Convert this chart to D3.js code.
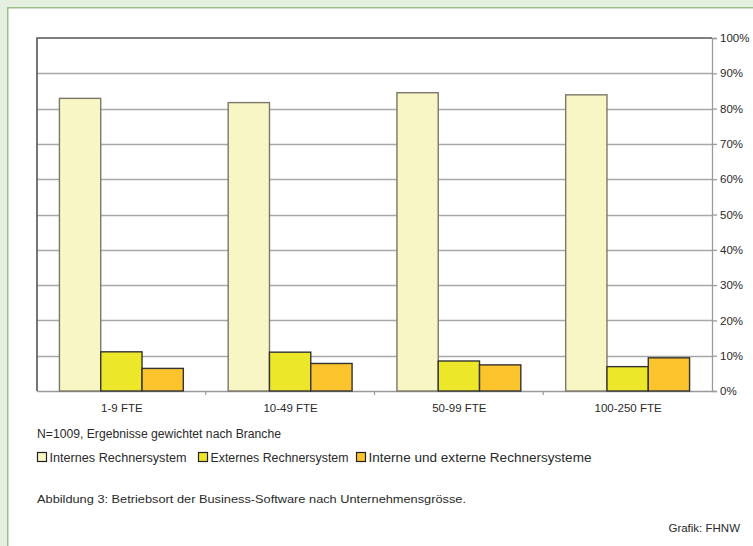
<!DOCTYPE html>
<html>
<head>
<meta charset="utf-8">
<script src="https://cdn.jsdelivr.net/npm/d3@7"></script>
<style>
  html, body { margin: 0; padding: 0; background: #e6f0e1; overflow: hidden; width: 753px; height: 546px; }
  svg { display: block; overflow: hidden; }
  text { font-family: "Liberation Sans", Arial, sans-serif; fill: #2a2a2a; }
</style>
</head>
<body>
<svg id="chart" width="753" height="546"></svg>
<script>
// Company size classes
const categories = ["1-9 FTE", "10-49 FTE", "50-99 FTE", "100-250 FTE"];
// Series (share of companies, %)
const seriesNames = ["Internes Rechnersystem", "Externes Rechnersystem", "Interne und externe Rechnersysteme"];
const internes = [82.9, 81.7, 84.5, 83.9];
const externes = [11.1, 11.0, 8.5, 6.9];
const beide = [6.4, 7.8, 7.4, 9.4];
const yTicks = [0, 10, 20, 30, 40, 50, 60, 70, 80, 90, 100];

const fills = ["#f9f6c6", "#ece829", "#fbc42c"];
const strokes = ["#7b776a", "#333", "#333"];

const values = [internes, externes, beide];
const rows = categories.map((c, i) => ({
  cat: c,
  vals: seriesNames.map((s, k) => ({ key: s, k, v: values[k][i] }))
}));

const W = 753, H = 546;
const svg = d3.select("#chart");

// page panel: white sheet running off the right and bottom edges
svg.append("rect").attr("x", 8).attr("y", 8).attr("width", W - 8).attr("height", H - 8)
  .attr("fill", "#fff");
svg.append("path").attr("d", `M7.75,${H} V7.75 H${W}`)
  .attr("fill", "none").attr("stroke", "#9cc08a").attr("stroke-width", 1.5);

const plotLeft = 37, plotRight = 712, plotTop = 38, plotBottom = 391;

const x0 = d3.scaleBand().domain(categories).range([plotLeft, plotRight]).paddingInner(0).paddingOuter(0);
const x1 = d3.scaleBand().domain(seriesNames).range([0, x0.bandwidth()]).paddingInner(0).paddingOuter(0.543);
const y = d3.scaleLinear().domain([0, 100]).range([plotBottom, plotTop]);

// gridlines
svg.append("g").selectAll("line").data(yTicks.filter(t => t > 0 && t < 100)).join("line")
  .attr("x1", plotLeft).attr("x2", plotRight)
  .attr("y1", d => Math.round(y(d)) + 0.5).attr("y2", d => Math.round(y(d)) + 0.5)
  .attr("stroke", "#a8a8a8").attr("stroke-width", 1.4);

// right axis with percent labels
const yAxis = d3.axisRight(y).tickValues(yTicks).tickSize(5).tickPadding(3).tickFormat(d => d + "%");
const ga = svg.append("g").attr("transform", `translate(${plotRight},0)`).call(yAxis);
ga.select(".domain").attr("stroke", "#9a9a9a").attr("stroke-width", 1.3);
ga.selectAll(".tick line").attr("stroke", "#9a9a9a").attr("stroke-width", 1.3);
ga.selectAll(".tick text").attr("font-size", 11.5).attr("fill", "#2a2a2a")
  .attr("font-family", "Liberation Sans, Arial, sans-serif");

// baseline and category axis ticks
svg.append("line").attr("x1", plotLeft).attr("x2", plotRight).attr("y1", plotBottom + 0.5).attr("y2", plotBottom + 0.5)
  .attr("stroke", "#9a9a9a").attr("stroke-width", 1.3);
svg.append("g").selectAll("line").data(categories.slice(1)).join("line")
  .attr("x1", d => x0(d)).attr("x2", d => x0(d))
  .attr("y1", plotBottom).attr("y2", plotBottom + 4)
  .attr("stroke", "#9a9a9a").attr("stroke-width", 1.2);

// plot frame: top and left edges
svg.append("path")
  .attr("d", `M${plotLeft},${plotBottom} V${plotTop} H${plotRight}`)
  .attr("fill", "none").attr("stroke", "#555").attr("stroke-width", 1.6);

// bars
const groups = svg.append("g").selectAll("g").data(rows).join("g")
  .attr("transform", d => `translate(${x0(d.cat)},0)`);
groups.selectAll("rect").data(d => d.vals).join("rect")
  .attr("x", d => x1(d.key))
  .attr("width", x1.bandwidth())
  .attr("y", d => y(d.v))
  .attr("height", d => y(0) - y(d.v))
  .attr("fill", d => fills[d.k])
  .attr("stroke", d => strokes[d.k])
  .attr("stroke-width", 1.4);

// category labels
svg.append("g").selectAll("text").data(categories).join("text")
  .attr("x", d => x0(d) + x0.bandwidth() / 2 + 0.5)
  .attr("y", 412)
  .attr("text-anchor", "middle")
  .attr("font-size", 11.5)
  .text(d => d);

// sample note
svg.append("text").attr("x", 37).attr("y", 438)
  .attr("font-family", "Liberation Sans Narrow, Arial Narrow, Liberation Sans, sans-serif")
  .attr("font-size", 12.5)
  .attr("textLength", 244).attr("lengthAdjust", "spacingAndGlyphs")
  .text("N=1009, Ergebnisse gewichtet nach Branche");

// legend
const legendX = [37, 198, 356];
const legendW = [137, 138, 223];
const lg = svg.append("g").selectAll("g").data(seriesNames).join("g")
  .attr("transform", (d, i) => `translate(${legendX[i]},452)`);
lg.append("rect").attr("x", 0.5).attr("y", 0.5).attr("width", 9).attr("height", 9)
  .attr("fill", (d, i) => fills[i]).attr("stroke", "#222").attr("stroke-width", 1.2);
lg.append("text").attr("x", 12.5).attr("y", 9.5)
  .attr("font-size", 12)
  .attr("textLength", (d, i) => legendW[i]).attr("lengthAdjust", "spacingAndGlyphs")
  .text(d => d);

// caption
svg.append("text").attr("x", 37).attr("y", 503)
  .attr("font-size", 11.5)
  .attr("textLength", 429).attr("lengthAdjust", "spacingAndGlyphs")
  .text("Abbildung 3: Betriebsort der Business-Software nach Unternehmensgrösse.");

svg.append("text").attr("x", 740).attr("y", 532)
  .attr("text-anchor", "end")
  .attr("font-size", 11.5)
  .text("Grafik: FHNW");
</script>
</body>
</html>
